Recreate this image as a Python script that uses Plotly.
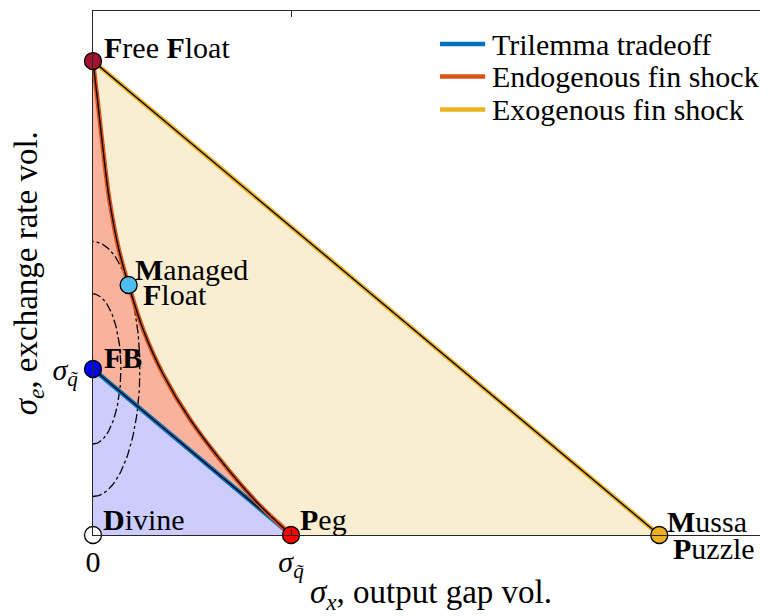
import numpy as np
import plotly.graph_objects as go

# ---- data (in units of sigma_q~) ----
curve_x = [0.0, 0.011, 0.023, 0.051, 0.083, 0.131, 0.18, 0.254, 0.356, 0.492, 0.684, 0.831, 1.0]
curve_y = [2.855, 2.74, 2.62, 2.319, 2.018, 1.717, 1.506, 1.235, 0.964, 0.693, 0.392, 0.193, 0.0]

pt_names = ["Free Float", "Managed Float", "FB", "Divine", "Peg", "Mussa Puzzle"]
pt_x = [0.0, 0.18, 0.0, 0.0, 1.0, 2.86]
pt_y = [2.855, 1.506, 1.0, 0.0, 0.0, 0.0]
pt_colors = ["#A2142F", "#4DBEEE", "#0000FF", "#FFFFFF", "#FF0000", "#EDB120"]

ell_center = [0.0, 1.0]
ell_semi_x = [0.237, 0.141]
ell_semi_y = [0.768, 0.452]

x_tickvals = [0, 1]
x_ticktext = ["0", "<i>σ</i><sub><i>q\u0303</i></sub>"]
y_tickvals = [0, 1]
y_ticktext = ["", "<i>σ</i><sub><i>q\u0303</i></sub>"]

legend_names = ["Trilemma tradeoff", "Endogenous fin shock", "Exogenous fin shock"]
line_colors = ["#0072BD", "#D95319", "#EDB120"]

FONT = "Liberation Serif"
FS = 30
FS_TITLE = 33

FF, MF, FB, DV, PG, MU = range(6)

fig = go.Figure()

# fills
fig.add_trace(go.Scatter(x=[pt_x[FF], pt_x[MU], pt_x[DV], pt_x[FF]],
                         y=[pt_y[FF], pt_y[MU], pt_y[DV], pt_y[FF]],
                         fill="toself", fillcolor="#FAEED2", mode="none",
                         showlegend=False, hoverinfo="skip"))
fig.add_trace(go.Scatter(x=curve_x + [pt_x[DV], curve_x[0]],
                         y=curve_y + [pt_y[DV], curve_y[0]],
                         fill="toself", fillcolor="#FBB29D", mode="none",
                         line=dict(shape="spline", smoothing=1.0),
                         showlegend=False, hoverinfo="skip"))
fig.add_trace(go.Scatter(x=[pt_x[DV], pt_x[FB], pt_x[PG], pt_x[DV]],
                         y=[pt_y[DV], pt_y[FB], pt_y[PG], pt_y[DV]],
                         fill="toself", fillcolor="#CCCCFF", mode="none",
                         showlegend=False, hoverinfo="skip"))

# dash-dot ellipses (right halves) centred at FB
th = np.linspace(-np.pi / 2, np.pi / 2, 80)
for a, b in zip(ell_semi_x, ell_semi_y):
    fig.add_trace(go.Scatter(x=ell_center[0] + a * np.cos(th), y=ell_center[1] + b * np.sin(th),
                             mode="lines", line=dict(color="black", width=1.3, dash="dashdot"),
                             showlegend=False, hoverinfo="skip"))

# lines (coloured + thin black core)
line_sets = [
    ([pt_x[FB], pt_x[PG]], [pt_y[FB], pt_y[PG]]),
    (curve_x, curve_y),
    ([pt_x[FF], pt_x[MU]], [pt_y[FF], pt_y[MU]]),
]
for (lx, ly), name, col in zip(line_sets, legend_names, line_colors):
    fig.add_trace(go.Scatter(x=lx, y=ly, mode="lines", name=name, showlegend=False,
                             line=dict(color=col, width=4.5, shape="spline", smoothing=1.0)))
    fig.add_trace(go.Scatter(x=lx, y=ly, mode="lines", showlegend=False, hoverinfo="skip",
                             line=dict(color="black", width=1.3, shape="spline", smoothing=1.0)))

# markers
fig.add_trace(go.Scatter(x=pt_x, y=pt_y, mode="markers", showlegend=False, cliponaxis=False,
                         marker=dict(size=17, color=pt_colors, line=dict(color="black", width=1.3)),
                         text=pt_names, hoverinfo="text"))

# point labels
labels = [
    (FF, "<b>F</b>ree <b>F</b>loat", 9, 14),
    (MF, "<b>M</b>anaged", 4, 16),
    (MF, "<b>F</b>loat", 12, -9),
    (FB, "<b>F</b><b>B</b>", 9, 12),
    (DV, "<b>D</b>ivine", 8, 16),
    (PG, "<b>P</b>eg", 7, 16),
    (MU, "<b>M</b>ussa", 6, 14),
    (MU, "<b>P</b>uzzle", 12, -13),
]
for i, txt, dx, dy in labels:
    fig.add_annotation(x=pt_x[i], y=pt_y[i], text=txt, showarrow=False,
                       xanchor="left", yanchor="middle", xshift=dx, yshift=dy,
                       font=dict(family=FONT, size=FS, color="black"))

# legend (drawn manually, paper coordinates of the plot area)
leg_x0, leg_x1, leg_tx = 0.514, 0.581, 0.588
leg_rows = [0.937, 0.875, 0.812]
for name, col, yy in zip(legend_names, line_colors, leg_rows):
    fig.add_shape(type="line", xref="paper", yref="paper", x0=leg_x0, x1=leg_x1, y0=yy, y1=yy,
                  line=dict(color=col, width=4.5))
    fig.add_annotation(xref="paper", yref="paper", x=leg_tx, y=yy, text=name, showarrow=False,
                       xanchor="left", yanchor="middle",
                       font=dict(family=FONT, size=FS, color="black"))

# axis titles
fig.add_annotation(xref="paper", yref="paper", x=0.5, y=-0.114, borderpad=0,
                   text="<i>σ</i><sub><i>x</i></sub>, output gap vol.", showarrow=False,
                   xanchor="center", yanchor="middle", font=dict(family=FONT, size=FS_TITLE, color="black"))
fig.add_annotation(xref="paper", yref="paper", x=-0.096, y=0.5, textangle=-90, borderpad=0,
                   text="<i>σ</i><sub><i>e</i></sub>, exchange rate vol.", showarrow=False,
                   xanchor="center", yanchor="middle", font=dict(family=FONT, size=FS_TITLE, color="black"))

axis_col = "#262626"
# page body adds an 8px offset, so the figure is 8px smaller and margins shifted by 8px
fig.update_layout(
    width=760, height=608,
    margin=dict(l=85, r=0, t=3, b=81),
    paper_bgcolor="white", plot_bgcolor="white",
    font=dict(family=FONT, size=FS, color="black"),
    showlegend=False,
    xaxis=dict(range=[0, 675 / 198], showgrid=False, zeroline=False, automargin=False,
               showline=True, linecolor=axis_col, linewidth=1.3, mirror="ticks",
               ticks="inside", ticklen=6, tickcolor=axis_col,
               tickvals=x_tickvals, ticktext=x_ticktext,
               tickfont=dict(family=FONT, size=FS)),
    yaxis=dict(range=[0, 524 / 166], showgrid=False, zeroline=False, automargin=False,
               showline=True, linecolor=axis_col, linewidth=1.3, mirror=False,
               ticks="inside", ticklen=6, tickcolor=axis_col, ticklabelstandoff=8,
               tickvals=y_tickvals, ticktext=y_ticktext,
               tickfont=dict(family=FONT, size=FS)),
)

fig.write_html("out.html")
